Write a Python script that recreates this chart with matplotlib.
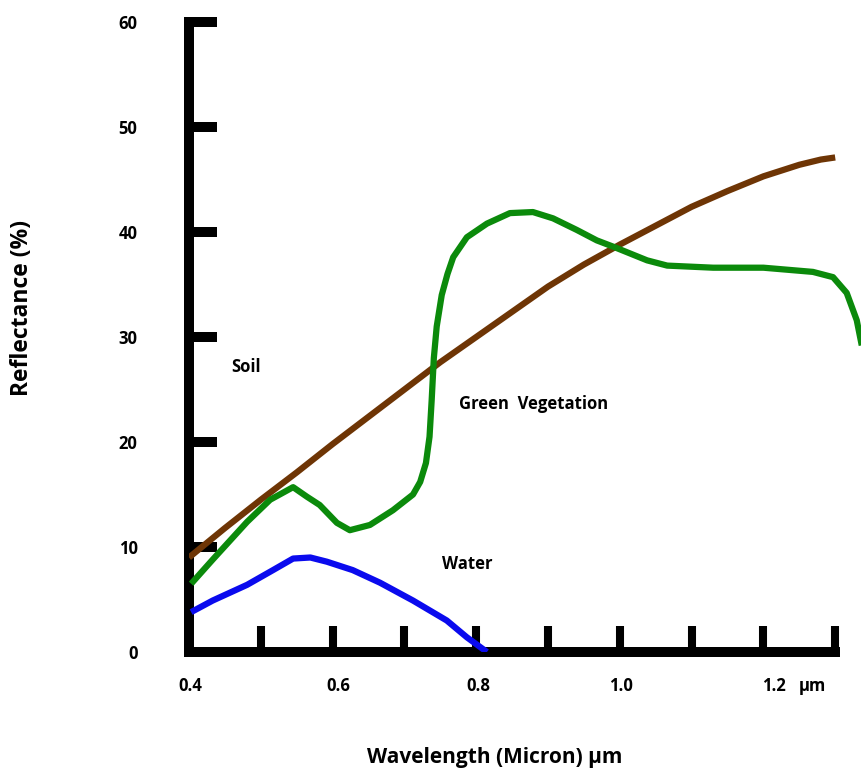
import matplotlib
matplotlib.use("Agg")
import matplotlib.pyplot as plt
import matplotlib.transforms as mtransforms

plt.rcParams['font.family'] = ['Open Sans', 'DejaVu Sans']

# ---- data ----
soil_x = [0.40, 0.45, 0.50, 0.55, 0.60, 0.65, 0.70, 0.75, 0.80, 0.85, 0.90,
          0.95, 1.00, 1.05, 1.10, 1.15, 1.20, 1.25, 1.28, 1.30]
soil_y = [9.0, 11.8, 14.5, 17.1, 19.8, 22.4, 25.0, 27.6, 30.0, 32.4, 34.8,
          36.9, 38.8, 40.6, 42.4, 43.9, 45.3, 46.4, 46.9, 47.1]

veg_x = [0.403, 0.433, 0.481, 0.513, 0.545, 0.564, 0.582, 0.606, 0.624, 0.652,
         0.684, 0.712, 0.722, 0.730, 0.735, 0.738, 0.741, 0.745, 0.752, 0.760,
         0.768, 0.787, 0.815, 0.847, 0.879, 0.907, 0.940, 0.968, 0.991, 1.038,
         1.066, 1.130, 1.200, 1.269, 1.297, 1.316, 1.330, 1.337]
veg_y = [6.5, 8.8, 12.4, 14.5, 15.7, 14.8, 14.0, 12.3, 11.6, 12.1,
         13.5, 15.0, 16.2, 18.0, 20.5, 24.0, 28.0, 31.0, 34.0, 36.0,
         37.6, 39.5, 40.8, 41.8, 41.9, 41.3, 40.2, 39.2, 38.6, 37.3,
         36.8, 36.6, 36.6, 36.2, 35.7, 34.2, 31.6, 29.2]

water_x = [0.403, 0.433, 0.481, 0.517, 0.545, 0.569, 0.592, 0.628, 0.666, 0.712,
           0.759, 0.787, 0.815]
water_y = [3.8, 4.9, 6.4, 7.8, 8.9, 9.0, 8.6, 7.8, 6.6, 4.9,
           3.0, 1.4, 0.0]

x_ticks = [0.4, 0.5, 0.6, 0.7, 0.8, 0.9, 1.0, 1.1, 1.2, 1.3]
x_labels = ["0.4", "0.6", "0.8", "1.0", "1.2", "µm"]
x_label_pos = [0.402, 0.608, 0.803, 1.001, 1.214, 1.268]
y_ticks = [0, 10, 20, 30, 40, 50, 60]
y_labels = ["0", "10", "20", "30", "40", "50", "60"]

# ---- figure ----
W, H = 862, 770
fig = plt.figure(figsize=(W / 100, H / 100), dpi=100)
x0_px, y0_px, ytop_px = 189, 652, 22
ax = fig.add_axes([x0_px / W, 1 - y0_px / H, (W - x0_px) / W, (y0_px - ytop_px) / H])
ax.set_xlim(0.4, 0.4 + (W - x0_px) / 718.0)
ax.set_ylim(0, 60)

ax.plot(soil_x, soil_y, color='#6e3505', lw=4.5, solid_capstyle='butt', zorder=3)
ax.plot(veg_x, veg_y, color='#0b8a0b', lw=4.5, solid_capstyle='butt', zorder=3)
ax.plot(water_x, water_y, color='#0a0aee', lw=4.5, solid_capstyle='butt', zorder=3)

for s in ['top', 'right']:
    ax.spines[s].set_visible(False)
ax.spines['left'].set_linewidth(7.2)
ax.spines['bottom'].set_linewidth(7.2)
ax.spines['left'].set_bounds(0, 60)
ax.spines['bottom'].set_bounds(0.4, 1.3)
ax.spines['left'].set_capstyle('projecting')
ax.spines['bottom'].set_capstyle('projecting')

ax.set_xticks(x_ticks)
ax.set_xticklabels([])
ax.tick_params(axis='x', direction='in', length=19, width=5.8, color='black')
ax.set_yticks(y_ticks)
ax.set_yticklabels(y_labels, fontsize=12, fontweight='bold')
ax.tick_params(axis='y', direction='in', length=20, width=7.2, color='black', pad=37)

trans = mtransforms.blended_transform_factory(ax.transData, fig.transFigure)
for lab, xp in zip(x_labels, x_label_pos):
    ax.text(xp, 1 - 686 / H, lab, transform=trans, ha='center', va='center',
            fontsize=12, fontweight='bold')

fig.text(495 / W, 1 - 757 / H, "Wavelength (Micron) µm", ha='center', va='center',
         fontsize=15, fontweight='bold')
fig.text(22 / W, 1 - 308 / H, "Reflectance (%)", ha='center', va='center',
         rotation=90, fontsize=16.5, fontweight='bold')

fig.text(231 / W, 1 - 367 / H, "Soil", ha='left', va='center', fontsize=12, fontweight='bold')
fig.text(459 / W, 1 - 404 / H, "Green  Vegetation", ha='left', va='center', fontsize=12, fontweight='bold')
fig.text(442 / W, 1 - 564 / H, "Water", ha='left', va='center', fontsize=12, fontweight='bold')

fig.savefig("out.png", dpi=100)
